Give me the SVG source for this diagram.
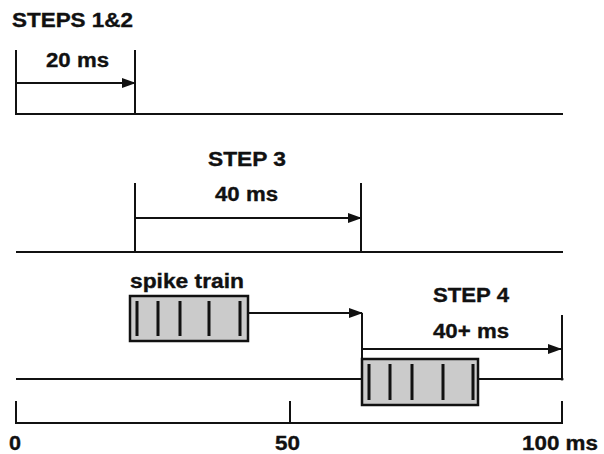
<svg xmlns="http://www.w3.org/2000/svg" width="604" height="454" viewBox="0 0 604 454">
<style>
.t{font-family:"Liberation Sans",Arial,sans-serif;font-weight:bold;font-size:20px;fill:#111;stroke:#111;stroke-width:0.35}
.ln{stroke:#111;stroke-width:2;fill:none}
.box{fill:#cbcbcb;stroke:#111;stroke-width:2.5}
.sp{stroke:#111;stroke-width:3}
.arr{stroke:#111;stroke-width:2;fill:none;marker-end:url(#ah)}
</style>
<defs>
<marker id="ah" markerUnits="userSpaceOnUse" markerWidth="14" markerHeight="10" refX="13" refY="5" orient="auto">
<path d="M0,0 L14,5 L0,10 z" fill="#111"/>
</marker>
</defs>
<rect width="604" height="454" fill="#fff"/>
<g id="timelines">
<path class="ln" d="M16,50 V114 H563 M135,50 V114"/>
<path class="ln" d="M16,252 H563 M135,183 V252 M361,183 V252"/>
<path class="ln" d="M16,379 H362 M478,379 H562 M562,315 V379"/>
<circle cx="562" cy="379" r="1.6" fill="#111"/>
<path class="ln" d="M16,401 V423 H562 V401 M290,401 V423"/>
</g>
<g id="connectors">
<path class="arr" d="M16,83 H135"/>
<path class="arr" d="M135,218 H361"/>
<path class="arr" d="M248,313 H362"/>
<path class="ln" d="M362,313 V359"/>
<path class="arr" d="M362,349 H561"/>
</g>
<g id="spike-train-1">
<rect class="box" x="130" y="296" width="118" height="45"/>
<path class="sp" d="M137,301 V336 M158,301 V336 M180,301 V336 M209,301 V336 M240,301 V336"/>
</g>
<g id="spike-train-2">
<rect class="box" x="362" y="359" width="116" height="46"/>
<path class="sp" d="M369,364 V400 M390,364 V400 M412,364 V400 M443,364 V400 M473,364 V400"/>
</g>
<g id="labels">
<text class="t" x="12" y="27" font-size="18.5" textLength="121" lengthAdjust="spacingAndGlyphs">STEPS 1&amp;2</text>
<text class="t" x="46" y="67" textLength="63" lengthAdjust="spacingAndGlyphs">20 ms</text>
<text class="t" x="208" y="166" textLength="78" lengthAdjust="spacingAndGlyphs">STEP 3</text>
<text class="t" x="215" y="201" textLength="63" lengthAdjust="spacingAndGlyphs">40 ms</text>
<text class="t" x="130" y="288" textLength="114" lengthAdjust="spacingAndGlyphs">spike train</text>
<text class="t" x="433" y="302" textLength="76" lengthAdjust="spacingAndGlyphs">STEP 4</text>
<text class="t" x="433" y="338" textLength="76" lengthAdjust="spacingAndGlyphs">40+ ms</text>
<text class="t" x="9" y="450" textLength="12" lengthAdjust="spacingAndGlyphs">0</text>
<text class="t" x="275" y="450" textLength="25" lengthAdjust="spacingAndGlyphs">50</text>
<text class="t" x="522" y="450" textLength="76" lengthAdjust="spacingAndGlyphs">100 ms</text>
</g>
</svg>
